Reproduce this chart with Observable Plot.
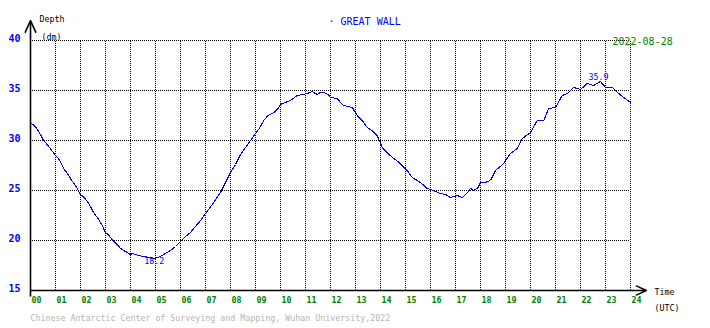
<!DOCTYPE html>
<html>
<head>
<meta charset="utf-8">
<script src="https://cdn.jsdelivr.net/npm/d3@7"></script>
<script src="https://cdn.jsdelivr.net/npm/@observablehq/plot@0.6"></script>
<style>
  html, body { margin: 0; padding: 0; background: white; }
  svg { display: block; }
</style>
</head>
<body>
<div id="chart"></div>
<script>
// Tide gauge readings: time (hours UTC) and depth (dm)
const hoursUTC = [0.0,0.1,0.25,0.33,0.5,0.7,0.85,1.0,1.15,1.33,1.5,1.65,1.8,2.0,2.15,2.33,2.5,2.67,2.85,3.0,3.1,3.3,3.47,3.6,3.8,4.0,4.1,4.3,4.53,4.75,4.95,5.1,5.33,5.6,5.8,6.0,6.2,6.4,6.53,6.8,7.0,7.3,7.6,7.8,8.0,8.2,8.4,8.6,8.8,9.0,9.15,9.33,9.5,9.73,9.9,10.0,10.2,10.4,10.67,10.9,11.07,11.27,11.47,11.6,11.73,11.9,12.0,12.27,12.4,12.53,12.87,13.07,13.3,13.47,13.7,13.87,14.07,14.3,14.53,14.75,14.93,15.1,15.27,15.6,15.87,16.0,16.2,16.4,16.6,16.8,17.07,17.27,17.45,17.6,17.73,17.9,18.0,18.2,18.4,18.6,18.93,19.2,19.47,19.67,20.0,20.27,20.53,20.73,21.0,21.27,21.47,21.73,22.0,22.27,22.53,22.8,23.0,23.27,23.53,23.73,24.0];
const depthDm = [31.7,31.6,31.2,30.9,30.1,29.5,29.0,28.5,28.1,27.2,26.6,26.0,25.5,24.6,24.3,23.7,22.9,22.3,21.6,20.8,20.6,20.0,19.6,19.2,18.9,18.6,18.7,18.5,18.4,18.3,18.2,18.3,18.6,19.0,19.4,19.9,20.4,20.8,21.2,22.0,22.7,23.7,24.8,25.8,26.8,27.6,28.6,29.3,30.0,30.7,31.2,32.0,32.5,32.8,33.2,33.6,33.8,34.0,34.5,34.6,34.7,34.9,34.6,34.8,34.8,34.6,34.3,34.2,33.8,33.5,33.3,32.5,31.9,31.3,30.9,30.5,29.3,28.7,28.2,27.8,27.3,26.9,26.3,25.8,25.2,25.1,24.9,24.7,24.6,24.3,24.5,24.3,24.7,25.2,25.0,25.3,25.8,25.8,26.0,27.0,27.7,28.7,29.2,30.2,30.8,32.0,32.0,33.2,33.3,34.5,34.7,35.3,35.1,35.7,35.5,35.9,35.3,35.3,34.7,34.3,33.8];

const xTicks = d3.range(0, 25);          // 00 .. 24
const yTicks = [15, 20, 25, 30, 35, 40];
const stationName = "GREAT WALL";
const dateLabel = "2022-08-28";
const yTitle = "Depth";
const yUnit = "(dm)";
const xTitle = "Time";
const xUnit = "(UTC)";
const credit = "Chinese Antarctic Center of Surveying and Mapping, Wuhan University,2022";

const data = hoursUTC.map((h, i) => ({h, d: depthDm[i]}));
const minPt = d3.least(data, p => p.d);
const maxPt = d3.greatest(data, p => p.d);

const font = "'DejaVu Sans Mono', 'Liberation Mono', monospace";
const small = 8.3;

const chart = Plot.plot({
  width: 710,
  height: 328,
  marginLeft: 30,
  marginRight: 80,
  marginTop: 40,
  marginBottom: 38,
  x: {domain: [0, 24], axis: null},
  y: {domain: [15, 40], axis: null},
  style: {fontFamily: font, background: "white", overflow: "visible"},
  marks: [
    // dotted grid
    Plot.ruleX(xTicks.slice(1), {y1: 15, y2: 40, stroke: "black", strokeDasharray: "1,1", strokeWidth: 1, shapeRendering: "crispEdges"}),
    Plot.ruleY(yTicks.slice(1), {x1: 0, x2: 24, stroke: "black", strokeDasharray: "1,1", strokeWidth: 1, shapeRendering: "crispEdges"}),
    // axes with arrow heads
    Plot.arrow([0], {x1: 0, x2: 0, y1: 14.45, y2: 42, stroke: "black", strokeWidth: 1.6, headLength: 12, headAngle: 48}),
    Plot.arrow([0], {x1: 0, x2: 24.64, y1: 15, y2: 15, stroke: "black", strokeWidth: 1.4, headLength: 12, headAngle: 48}),
    // series
    Plot.line(data, {x: "h", y: "d", stroke: "#0000ff", strokeWidth: 1.1, shapeRendering: "crispEdges"}),
    // min / max labels
    Plot.text([minPt], {x: "h", y: "d", text: p => p.d.toFixed(1), dy: 3, fill: "#0000ff", fontSize: small}),
    Plot.text([maxPt], {x: "h", y: "d", text: p => p.d.toFixed(1), dy: -4, dx: -2, fill: "#0000ff", fontSize: small}),
    // y tick labels
    Plot.text(yTicks, {frameAnchor: "left", y: d => d, text: d => String(d), dx: -10, dy: -2, textAnchor: "end", fill: "#0000ff", fontWeight: "bold", fontSize: 10}),
    // x tick labels
    Plot.text(xTicks, {frameAnchor: "bottom", x: d => d, text: d => String(d).padStart(2, "0"), dx: 1, dy: 12, textAnchor: "start", fill: "#008000", fontWeight: "bold", fontSize: small}),
    // axis titles
    Plot.text([yTitle], {frameAnchor: "top-left", text: d => d, dx: 9, dy: -24, textAnchor: "start", fill: "black", fontSize: small}),
    Plot.text([yUnit], {frameAnchor: "top-left", text: d => d, dx: 11, dy: -6, textAnchor: "start", fill: "black", fontSize: small}),
    Plot.text([xTitle], {frameAnchor: "bottom-right", text: d => d, dx: 24, dy: 4, textAnchor: "start", fill: "black", fontSize: small}),
    Plot.text([xUnit], {frameAnchor: "bottom-right", text: d => d, dx: 24, dy: 20, textAnchor: "start", fill: "black", fontSize: small}),
    // title and date
    Plot.text([stationName], {frameAnchor: "top-left", text: d => "\u00b7 " + d, dx: 298, dy: -23, textAnchor: "start", fill: "#0000ff", fontSize: 10}),
    Plot.text([dateLabel], {frameAnchor: "top-right", text: d => d, dx: -18, dy: -3, textAnchor: "start", fill: "#008000", fontSize: 10}),
    // credit
    Plot.text([credit], {frameAnchor: "bottom-left", text: d => d, dx: 0, dy: 30, textAnchor: "start", fill: "#b4b4b4", fontSize: small})
  ]
});
document.getElementById("chart").appendChild(chart);
</script>
</body>
</html>
